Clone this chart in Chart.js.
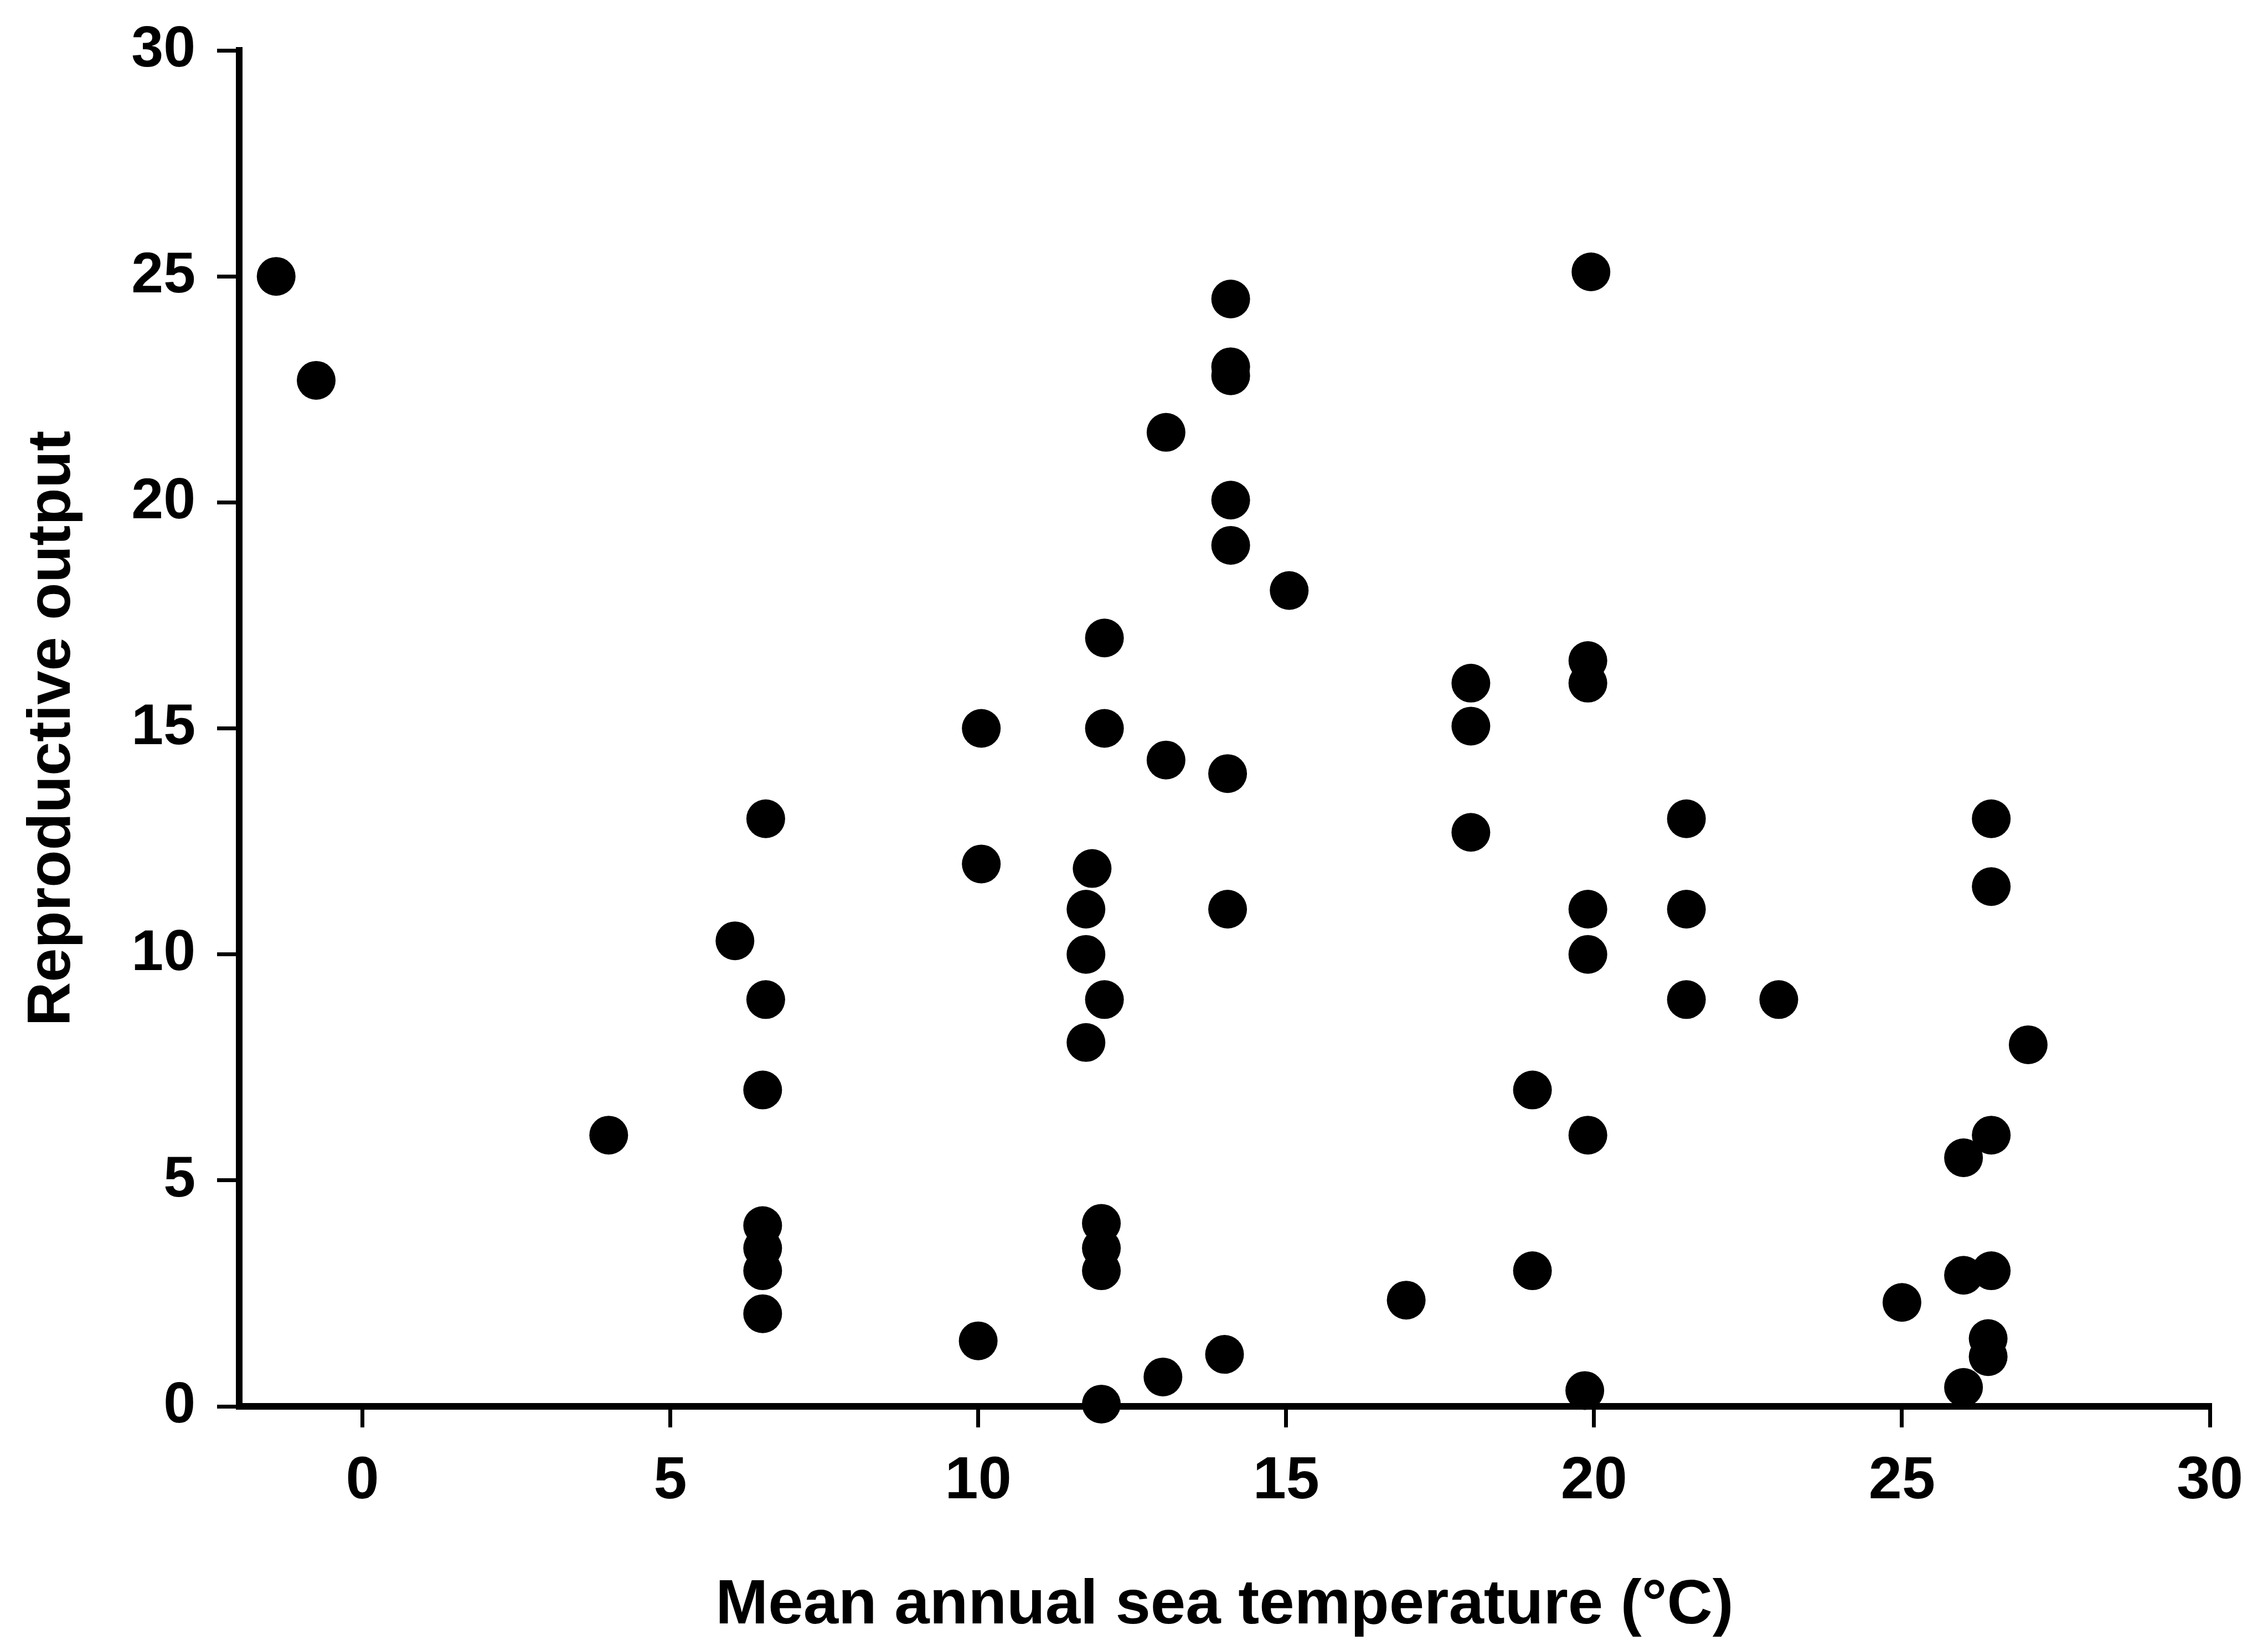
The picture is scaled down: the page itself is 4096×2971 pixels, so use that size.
<!DOCTYPE html>
<html>
<head>
<meta charset="utf-8">
<title>Reproductive output vs mean annual sea temperature</title>
<script src="https://cdn.jsdelivr.net/npm/chart.js@4.4.1/dist/chart.umd.min.js"></script>
<style>
  html, body { margin: 0; padding: 0; background: #ffffff; }
  canvas { display: block; }
</style>
</head>
<body>
<canvas id="chart" width="4096" height="2971"></canvas>
<script>
// Mean annual sea temperature (°C) for each observation
const temperature = [
  -1.4, -0.75, 4.0, 6.05, 6.55, 6.55, 6.5, 6.5, 6.5, 6.5, 6.5,
  10.05, 10.05, 10.0,
  11.85, 11.75, 11.75, 11.75, 12.05, 12.05, 12.05, 12.0, 12.0, 12.0, 12.0,
  13.05, 13.05, 13.0,
  14.1, 14.1, 14.1, 14.1, 14.1, 14.05, 14.05, 14.0,
  15.05, 16.95, 18.0, 18.0, 18.0, 19.0, 19.0,
  19.95, 19.9, 19.9, 19.9, 19.9, 19.9, 19.85,
  21.5, 21.5, 21.5, 23.0, 25.0,
  26.0, 26.0, 26.0, 26.45, 26.45, 26.45, 26.45, 26.4, 26.4, 27.05
];

// Reproductive output for each observation (same order)
const output = [
  25.0, 22.7, 6.0, 10.3, 13.0, 9.0, 7.0, 4.0, 3.5, 3.0, 2.05,
  15.0, 12.0, 1.45,
  11.9, 11.0, 10.0, 8.05, 9.0, 17.0, 15.0, 4.05, 3.5, 3.0, 0.05,
  21.55, 14.3, 0.65,
  24.5, 23.0, 22.8, 20.05, 19.05, 14.0, 11.0, 1.15,
  18.05, 2.35, 16.0, 15.05, 12.7, 7.0, 3.0,
  25.1, 16.5, 16.0, 11.0, 10.0, 6.0, 0.35,
  13.0, 11.0, 9.0, 9.0, 2.3,
  5.5, 2.9, 0.42, 13.0, 11.5, 6.0, 3.0, 1.5, 1.1, 8.0
];

const xTickValues = [0, 5, 10, 15, 20, 25, 30];
const yTickValues = [0, 5, 10, 15, 20, 25, 30];

const xTitle = 'Mean annual sea temperature (°C)';
const yTitle = 'Reproductive output';

const FONT = '"Liberation Sans", Arial, Helvetica, sans-serif';
const INK = '#000000';

const points = temperature.map((t, i) => ({ x: t, y: output[i] }));

new Chart(document.getElementById('chart'), {
  type: 'scatter',
  data: {
    datasets: [{
      data: points,
      backgroundColor: INK,
      borderColor: INK,
      borderWidth: 0,
      pointRadius: 35,
      pointHoverRadius: 35,
      clip: false
    }]
  },
  options: {
    responsive: false,
    animation: false,
    devicePixelRatio: 1,
    layout: { padding: { top: 85, right: 105, bottom: 0, left: 0 } },
    plugins: {
      legend: { display: false },
      tooltip: { enabled: false }
    },
    scales: {
      x: {
        type: 'linear',
        min: -2,
        max: 30,
        afterBuildTicks: (scale) => { scale.ticks = xTickValues.map(v => ({ value: v })); },
        afterFit: (scale) => { scale.height = 431; },
        grid: {
          drawOnChartArea: false,
          drawTicks: true,
          tickLength: 38,
          tickWidth: 7,
          tickColor: INK,
          lineWidth: 7,
          color: INK
        },
        border: { display: true, color: INK, width: 12 },
        ticks: {
          padding: 44,
          color: INK,
          maxRotation: 0,
          autoSkip: false,
          font: { family: FONT, size: 108, weight: 'bold', lineHeight: 1 }
        },
        title: {
          display: true,
          text: xTitle,
          color: INK,
          padding: { top: 0, bottom: 13 },
          font: { family: FONT, size: 114, weight: 'bold', lineHeight: 1 }
        }
      },
      y: {
        type: 'linear',
        min: 0,
        max: 30,
        afterBuildTicks: (scale) => { scale.ticks = yTickValues.map(v => ({ value: v })); },
        afterFit: (scale) => { scale.width = 432; },
        grid: {
          drawOnChartArea: false,
          drawTicks: true,
          tickLength: 40,
          tickWidth: 7,
          tickColor: INK,
          lineWidth: 7,
          color: INK
        },
        border: { display: true, color: INK, width: 12 },
        ticks: {
          padding: 39,
          color: INK,
          autoSkip: false,
          font: { family: FONT, size: 104, weight: 'bold', lineHeight: 1 }
        },
        title: {
          display: true,
          text: yTitle,
          color: INK,
          padding: { top: 41, bottom: 0 },
          font: { family: FONT, size: 110, weight: 'bold', lineHeight: 1 }
        }
      }
    }
  }
});
</script>
</body>
</html>
